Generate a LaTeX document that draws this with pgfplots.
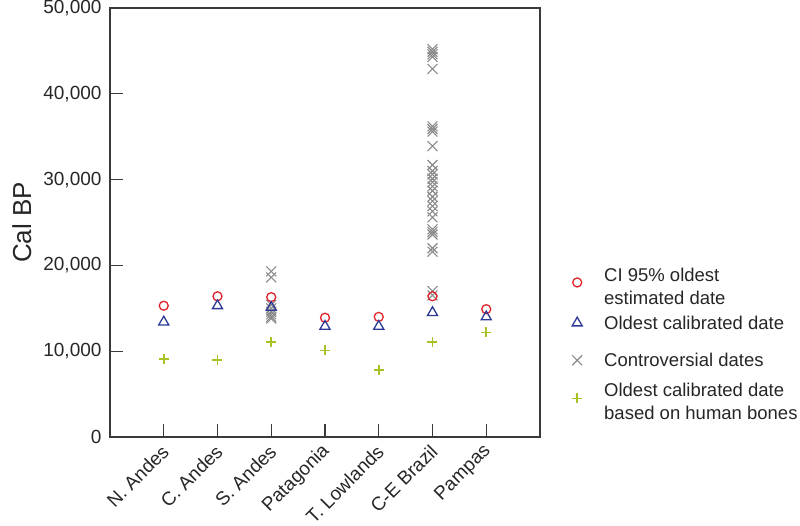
\documentclass[border=0pt]{standalone}
\usepackage{pgfplots}
\pgfplotsset{compat=1.18}
\usepackage{fontspec}
\setmainfont{Liberation Sans}
\definecolor{cred}{HTML}{E0242B}
\definecolor{cblue}{HTML}{2B3A96}
\definecolor{cgray}{HTML}{8A8A8A}
\definecolor{cgreen}{HTML}{A8C226}
\definecolor{axcol}{HTML}{3A3A3A}
\pgfplotsset{
  legmarks/.style={only marks,
    legend image code/.code={%
      \path[draw=none, fill=none] (0bp,-1bp) rectangle (44bp,1bp);
      \draw[##1, mark repeat=2, mark phase=2] plot coordinates {(0bp,#1) (22bp,#1) (44bp,#1)};}},
}
\begin{document}
\begin{tikzpicture}
\path[use as bounding box] (-110bp,-89bp) rectangle (690bp,437bp);
\begin{axis}[
  at={(0,0)}, anchor=south west,
  scale only axis, width=430bp, height=429bp,
  xmin=0, xmax=8, ymin=0, ymax=50000,
  xtick={1,...,7},
  xticklabels={N. Andes, C. Andes, S. Andes, Patagonia, T. Lowlands, C-E Brazil, Pampas},
  ytick={0,10000,...,50000},
  scaled y ticks=false,
  /pgf/number format/assume math mode=true,
  yticklabel style={xshift=-5bp, /pgf/number format/.cd, fixed, 1000 sep={,}},
  tick align=inside, major tick length=13bp,
  xtick pos=bottom, ytick pos=left,
  axis line style={axcol, line width=1.3bp},
  every tick/.style={axcol, line width=1.3bp},
  tick label style={font=\fontsize{19bp}{22bp}\selectfont, text=black!85},
  xticklabel style={xshift=4bp, yshift=-9bp, rotate=45, anchor=east},
  every axis y label/.style={at={(axis description cs:-0.205,0.5)}, rotate=90, anchor=center},
  ylabel={Cal BP},
  ylabel style={font=\fontsize{26bp}{30bp}\selectfont, text=black!85},
  legend cell align=left,
  legend style={at={(axis description cs:1.0349,0.3992)}, anchor=north west,
    draw=none, fill=none, inner sep=0pt, row sep=3.3bp, column sep=0pt,
    nodes={inner ysep=0pt, inner xsep=5bp, text depth=, text height=},
    font=\fontsize{18.5bp}{22.5bp}\selectfont, text=black!85},
  clip=false,
]
% controversial dates (drawn first, behind)
\addplot[only marks, forget plot, mark=x, mark size=7bp, cgray, line width=1.1bp] coordinates {
 (3,19300) (3,18600) (3,15400) (3,15000) (3,14600) (3,14300) (3,14000) (3,13800)
 (6,45200) (6,44900) (6,44600) (6,44300) (6,42900)
 (6,36200) (6,35900) (6,35600) (6,33900)
 (6,31700) (6,31000) (6,30600) (6,30100) (6,29700) (6,29200) (6,28700) (6,28000)
 (6,27500) (6,26900) (6,26300) (6,25600) (6,24200) (6,23900) (6,23600)
 (6,22000) (6,21600) (6,17000) (6,16500)
};
\addplot[legmarks=6bp, mark=o, mark size=4.5bp, cred, line width=1.3bp] coordinates {
 (1,15300) (2,16400) (3,16300) (4,13900) (5,14000) (6,16400) (7,14900)
};
\addlegendentry{\begin{tabular}{@{}l@{}}CI 95\% oldest\\estimated date\end{tabular}}
\addplot[legmarks=2.5bp, mark=triangle, mark size=5.8bp, cblue, line width=1.3bp] coordinates {
 (1,13400) (2,15300) (3,15100) (4,12900) (5,12900) (6,14500) (7,14000)
};
\addlegendentry{\begin{tabular}{@{}l@{}}Oldest calibrated date\end{tabular}}
\addlegendimage{legmarks=-3.5bp, mark=x, mark size=7bp, cgray, line width=1.1bp}
\addlegendentry{\begin{tabular}{@{}l@{}}\rule{0pt}{26.75bp}Controversial dates\end{tabular}}
\addplot[legmarks=3bp, mark=+, mark size=5bp, cgreen, line width=1.6bp] coordinates {
 (1,9100) (2,9000) (3,11100) (4,10100) (5,7800) (6,11100) (7,12200)
};
\addlegendentry{\begin{tabular}{@{}l@{}}\rule{0pt}{19.95bp}Oldest calibrated date\\based on human bones\end{tabular}}
\end{axis}
\end{tikzpicture}
\end{document}
